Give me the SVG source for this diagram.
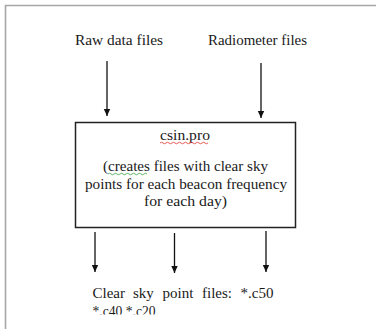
<svg xmlns="http://www.w3.org/2000/svg" width="376" height="329" viewBox="0 0 376 329">
<style>
  .t { font-family: "Liberation Serif", "Times New Roman", "DejaVu Serif", serif; font-size: 15px; fill: #1a1a1a; }
  .edge { stroke: #111; stroke-width: 1.3; fill: none; }
  .frame { stroke: #a6a6a6; stroke-width: 1.6; fill: none; }
</style>
<defs>
  <marker id="ah" markerWidth="8" markerHeight="8" viewBox="0 0 8 8" refX="7" refY="4" orient="auto" markerUnits="userSpaceOnUse">
    <path d="M0,0.8 L7,4 L0,7.2 Z" fill="#111"/>
  </marker>
  <clipPath id="clipBottom"><rect x="0" y="0" width="376" height="314.5"/></clipPath>
</defs>
<rect width="376" height="329" fill="#fff"/>
<path class="frame" d="M5.5,329 L5.5,5.5 L376,5.5"/>

<g id="raw">
  <text class="t" x="75" y="45" textLength="88" lengthAdjust="spacingAndGlyphs">Raw data files</text>
</g>
<g id="radiometer">
  <text class="t" x="208" y="45" textLength="99" lengthAdjust="spacingAndGlyphs">Radiometer files</text>
</g>

<g id="csin">
  <rect x="75.5" y="122.5" width="220" height="105" fill="#fff" stroke="#222" stroke-width="1.5"/>
  <text class="t" x="160" y="140" textLength="50" lengthAdjust="spacingAndGlyphs">csin.pro</text>
  <path d="M160,143 q1.5,-1.5 3,0 t3,0 t3,0 t3,0 t3,0 t3,0 t3,0 t3,0 t3,0 t3,0 t3,0 t3,0 t3,0 t3,0 t3,0 t3,0" stroke="#e03030" stroke-width="0.8" fill="none"/>
  <text class="t" x="103" y="171" textLength="165" lengthAdjust="spacingAndGlyphs">(creates files with clear sky</text>
  <path d="M108,174 q1.5,-1.5 3,0 t3,0 t3,0 t3,0 t3,0 t3,0 t3,0 t3,0 t3,0 t3,0 t3,0 t3,0 t3,0" stroke="#3aa040" stroke-width="0.8" fill="none"/>
  <text class="t" x="85" y="188.5" textLength="202" lengthAdjust="spacingAndGlyphs">points for each beacon frequency</text>
  <text class="t" x="144" y="206" textLength="83" lengthAdjust="spacingAndGlyphs">for each day)</text>
</g>

<g id="outputs" clip-path="url(#clipBottom)">
  <text class="t" x="92.5" y="298">Clear</text>
  <text class="t" x="133" y="298">sky</text>
  <text class="t" x="162.5" y="298">point</text>
  <text class="t" x="202" y="298">files:</text>
  <text class="t" x="240.5" y="298" textLength="33" lengthAdjust="spacingAndGlyphs">*.c50</text>
  <text class="t" x="92.5" y="316" textLength="63" lengthAdjust="spacingAndGlyphs">*.c40 *.c20</text>
</g>

<g id="connectors">
  <line class="edge" x1="107" y1="61" x2="107" y2="116" marker-end="url(#ah)"/>
  <line class="edge" x1="261" y1="63" x2="261" y2="118" marker-end="url(#ah)"/>
  <line class="edge" x1="95" y1="232" x2="95" y2="272" marker-end="url(#ah)"/>
  <line class="edge" x1="174.5" y1="233" x2="174.5" y2="273" marker-end="url(#ah)"/>
  <line class="edge" x1="266" y1="231" x2="266" y2="272" marker-end="url(#ah)"/>
</g>
</svg>
